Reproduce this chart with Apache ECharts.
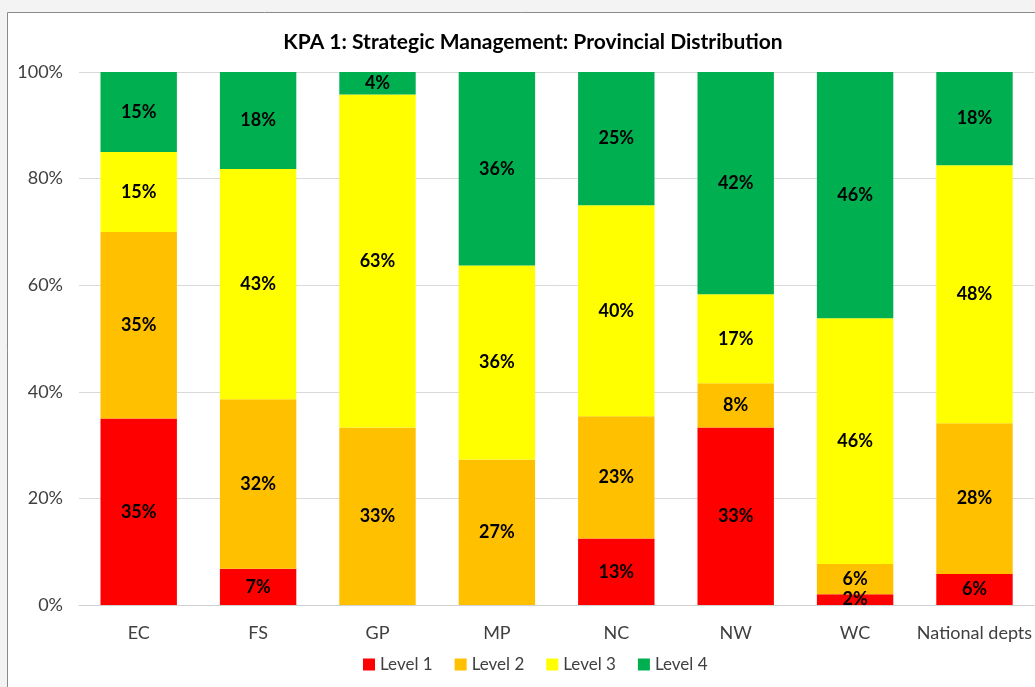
<!DOCTYPE html>
<html>
<head>
<meta charset="utf-8">
<style>
  html, body { margin: 0; padding: 0; background: #f3f3f3; }
  #chart { width: 1035px; height: 687px; }
</style>
<script src="https://cdn.jsdelivr.net/npm/echarts@6/dist/echarts.min.js"></script>
</head>
<body>
<div id="chart"></div>
<script>
  const categories = ['EC', 'FS', 'GP', 'MP', 'NC', 'NW', 'WC', 'National depts'];
  const level1 = [35, 6.8, 0, 0, 12.5, 33.3, 2.0, 5.8];
  const level2 = [35, 31.8, 33.3, 27.3, 22.9, 8.3, 5.7, 28.3];
  const level3 = [15, 43.2, 62.5, 36.4, 39.6, 16.7, 46.1, 48.4];
  const level4 = [15, 18.2, 4.2, 36.3, 25, 41.7, 46.2, 17.5];
  const yTicks = [0, 20, 40, 60, 80, 100];

  const font = 'Lato, "Open Sans", sans-serif';
  const chart = echarts.init(document.getElementById('chart'));

  function level(name, data, color) {
    return {
      name: name,
      type: 'bar',
      stack: 'total',
      barWidth: '64%',
      data: data,
      itemStyle: { color: color },
      label: {
        show: true,
        position: 'inside',
        color: '#000',
        fontFamily: font,
        fontWeight: 'bold',
        fontSize: 18,
        formatter: (p) => (p.value > 0 ? Math.round(p.value) + '%' : ''),
      },
    };
  }

  chart.setOption({
    backgroundColor: '#f3f3f3',
    animation: false,
    graphic: [
      {
        type: 'rect',
        z: -10,
        shape: { x: 7.5, y: 12.5, width: 1100, height: 700 },
        style: { fill: '#fff', stroke: '#8a8a8a', lineWidth: 1 },
      },
    ],
    title: {
      text: 'KPA 1: Strategic Management: Provincial Distribution',
      left: 528,
      textAlign: 'center',
      top: 27,
      textStyle: { fontFamily: font, fontWeight: 'bold', fontSize: 21, color: '#000' },
    },
    grid: { left: 79, top: 72, width: 957, bottom: 82 },
    legend: {
      bottom: 9,
      left: 358,
      icon: 'rect',
      itemWidth: 12,
      itemHeight: 12,
      itemGap: 22,
      textStyle: { fontFamily: font, fontSize: 17, color: '#404040' },
    },
    xAxis: {
      type: 'category',
      data: categories,
      axisTick: { show: false },
      axisLine: { lineStyle: { color: '#d0d0d0' } },
      axisLabel: { interval: 0, margin: 19, fontFamily: font, fontSize: 18, color: '#404040' },
    },
    yAxis: {
      type: 'value',
      min: yTicks[0],
      max: yTicks[yTicks.length - 1],
      interval: 20,
      axisLabel: { formatter: '{value}%', margin: 16, fontFamily: font, fontSize: 18, color: '#404040' },
      splitLine: { lineStyle: { color: '#d9d9d9' } },
    },
    series: [
      level('Level 1', level1, '#ff0000'),
      level('Level 2', level2, '#ffc000'),
      level('Level 3', level3, '#ffff00'),
      level('Level 4', level4, '#00b050'),
    ],
  });
</script>
</body>
</html>
